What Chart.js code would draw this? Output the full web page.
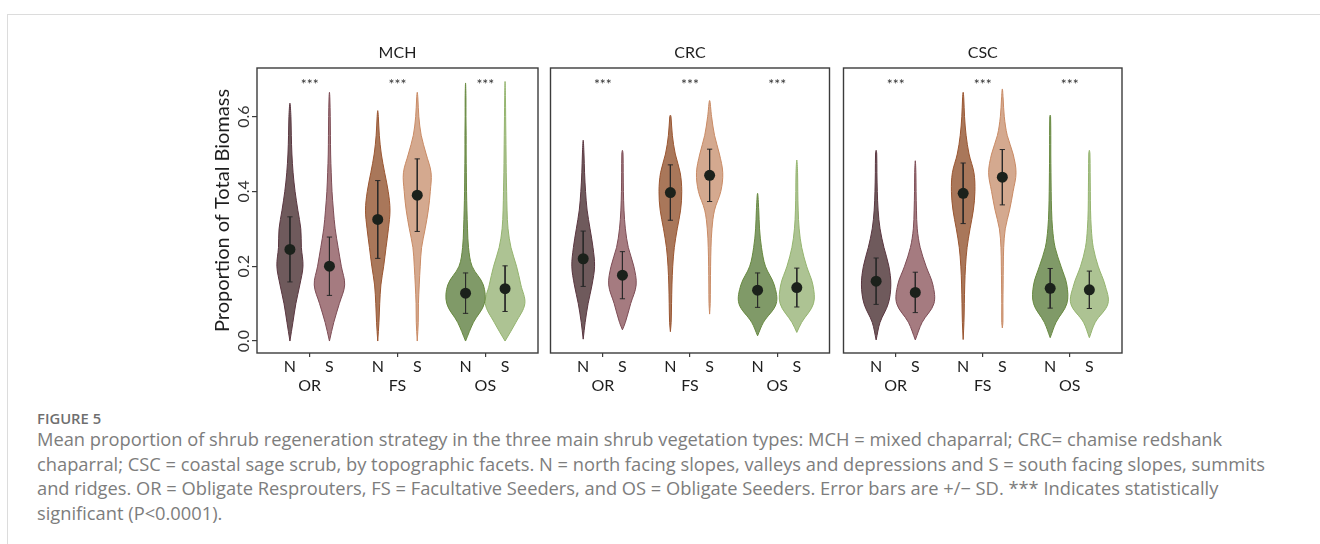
<!DOCTYPE html>
<html>
<head>
<meta charset="utf-8">
<script src="https://cdn.jsdelivr.net/npm/chart.js@4.4.0/dist/chart.umd.min.js"></script>
<style>
  html, body { margin: 0; padding: 0; background: #fff; }
  body { width: 1320px; height: 544px; position: relative; overflow: hidden; }
  .card { position: absolute; left: 7px; top: 14px; width: 1330px; height: 560px;
          border-left: 1px solid #dcdcdc; border-top: 1px solid #dcdcdc; }
  canvas { position: absolute; }
  #mch { left: 200px; top: 40px; }
  #crc { left: 545px; top: 40px; }
  #csc { left: 838px; top: 40px; }
  .fig { position: absolute; left: 37px; top: 408px; font: 600 14.8px 'Open Sans'; color: #6f6f6f; }
  .cap { position: absolute; left: 37px; top: 427px; font: 18.3px 'Open Sans'; line-height: 24.7px;
         color: #7d7d7d; white-space: nowrap; }
</style>
</head>
<body>
<div class="card"></div>
<canvas id="mch" width="345" height="360"></canvas>
<canvas id="crc" width="290" height="360"></canvas>
<canvas id="csc" width="290" height="360"></canvas>
<div class="fig">FIGURE 5</div>
<div class="cap">Mean proportion of shrub regeneration strategy in the three main shrub vegetation types: MCH = mixed chaparral; CRC= chamise redshank<br>chaparral; CSC = coastal sage scrub, by topographic facets. N = north facing slopes, valleys and depressions and S = south facing slopes, summits<br>and ridges. OR = Obligate Resprouters, FS = Facultative Seeders, and OS = Obligate Seeders. Error bars are +/&minus; SD. *** Indicates statistically<br>significant (P&lt;0.0001).</div>
<script>
// categories
const strategies = ['OR', 'FS', 'OS'];
const facets = ['N', 'S'];
const yTicks = [0, 0.2, 0.4, 0.6];
const densityLevels = [0, 0.05, 0.1, 0.15, 0.2, 0.25, 0.3, 0.35, 0.4, 0.45, 0.5, 0.55, 0.6, 0.65, 0.7];

// every list below is ordered OR-N, OR-S, FS-N, FS-S, OS-N, OS-S
// MCH
const mchMean = [0.245, 0.200, 0.325, 0.390, 0.128, 0.140];
const mchSd   = [0.087, 0.078, 0.104, 0.097, 0.054, 0.061];
const mchMin  = [0.0, 0.0, 0.0, 0.0, 0.0, 0.0];
const mchMax  = [0.636, 0.665, 0.616, 0.665, 0.690, 0.694];
const mchDensity = [
  [0, 0.15, 0.30, 0.50, 0.66, 0.58, 0.55, 0.40, 0.26, 0.16, 0.10, 0.07, 0.05, 0, 0],
  [0, 0.22, 0.50, 0.77, 0.60, 0.44, 0.29, 0.20, 0.13, 0.09, 0.06, 0.05, 0.04, 0.02, 0],
  [0, 0.06, 0.10, 0.16, 0.30, 0.42, 0.54, 0.62, 0.53, 0.35, 0.18, 0.08, 0.03, 0, 0],
  [0, 0.05, 0.06, 0.10, 0.15, 0.22, 0.40, 0.56, 0.66, 0.70, 0.45, 0.20, 0.08, 0.03, 0],
  [0, 0.40, 0.95, 0.90, 0.33, 0.15, 0.10, 0.07, 0.05, 0.04, 0.03, 0.03, 0.02, 0.02, 0],
  [0, 0.55, 1.00, 0.80, 0.58, 0.30, 0.15, 0.10, 0.08, 0.06, 0.05, 0.04, 0.03, 0.02, 0]
];

// CRC
const crcMean = [0.220, 0.176, 0.397, 0.443, 0.136, 0.143];
const crcSd   = [0.074, 0.063, 0.074, 0.070, 0.046, 0.052];
const crcMin  = [0.005, 0.030, 0.025, 0.072, 0.014, 0.023];
const crcMax  = [0.537, 0.510, 0.604, 0.643, 0.395, 0.484];
const crcDensity = [
  [0, 0.10, 0.25, 0.45, 0.58, 0.50, 0.35, 0.20, 0.12, 0.07, 0.04, 0, 0, 0, 0],
  [0, 0.15, 0.42, 0.70, 0.58, 0.30, 0.15, 0.08, 0.05, 0.04, 0.03, 0, 0, 0, 0],
  [0, 0.04, 0.06, 0.08, 0.12, 0.20, 0.35, 0.52, 0.58, 0.50, 0.25, 0.10, 0.03, 0, 0],
  [0, 0, 0.03, 0.04, 0.05, 0.07, 0.12, 0.25, 0.57, 0.67, 0.50, 0.25, 0.10, 0, 0],
  [0, 0.30, 0.95, 0.85, 0.40, 0.20, 0.10, 0.06, 0, 0, 0, 0, 0, 0, 0],
  [0, 0.25, 0.85, 0.82, 0.50, 0.25, 0.12, 0.07, 0.05, 0.04, 0, 0, 0, 0, 0]
];

// CSC
const cscMean = [0.160, 0.130, 0.395, 0.438, 0.141, 0.137];
const cscSd   = [0.062, 0.054, 0.081, 0.074, 0.053, 0.050];
const cscMin  = [0.003, 0.003, 0.004, 0.035, 0.009, 0.009];
const cscMax  = [0.510, 0.482, 0.665, 0.674, 0.604, 0.510];
const cscDensity = [
  [0, 0.20, 0.62, 0.75, 0.65, 0.40, 0.20, 0.10, 0.06, 0.04, 0.03, 0, 0, 0, 0],
  [0, 0.35, 0.95, 0.90, 0.55, 0.25, 0.10, 0.06, 0.04, 0.03, 0, 0, 0, 0, 0],
  [0, 0.04, 0.06, 0.08, 0.12, 0.20, 0.35, 0.52, 0.60, 0.55, 0.30, 0.15, 0.07, 0.03, 0],
  [0, 0.03, 0.03, 0.04, 0.05, 0.07, 0.15, 0.37, 0.55, 0.70, 0.55, 0.25, 0.10, 0.04, 0],
  [0, 0.30, 0.85, 0.85, 0.55, 0.25, 0.12, 0.07, 0.05, 0.04, 0.03, 0.03, 0.02, 0, 0],
  [0, 0.30, 0.95, 0.80, 0.45, 0.20, 0.10, 0.06, 0.05, 0.04, 0.03, 0, 0, 0, 0]
];

// styles
const fillColors   = ['#6f5a5c', '#a57b80', '#a9775a', '#d4a98f', '#809a68', '#adc393'];
const borderColors = ['#5a3640', '#7d4c55', '#9a5530', '#c98a64', '#67893f', '#94b46e'];
const dodge = 0.225;       // N / S offset from the group centre
const violinHalf = 0.225;  // half width of a violin at density 1
const capHalf = 0.03;
const frameColor = '#3c3c3c';
const textColor = '#1e1e1e';

// tick positions on the x axis: N, group, S for each strategy
const xTickPos = [];
const xTickLabels = [];
strategies.forEach((s, g) => {
  xTickPos.push(g + 1 - dodge, g + 1, g + 1 + dodge);
  xTickLabels.push(facets[0], ['', s], facets[1]);
});

function centreOf(i) {
  const g = Math.floor(i / 2) + 1;
  return i % 2 === 0 ? g - dodge : g + dodge;
}

function violinPoints(cx, lo, hi, dens) {
  const right = [], left = [];
  densityLevels.forEach((lv, k) => {
    if (lv > lo && lv < hi) {
      right.push({x: cx + dens[k] * violinHalf, y: lv});
      left.unshift({x: cx - dens[k] * violinHalf, y: lv});
    }
  });
  return [{x: cx, y: lo}, ...right, {x: cx, y: hi}, ...left, {x: cx, y: lo}];
}

function errorBarPoints(means, sds) {
  const pts = [];
  means.forEach((m, i) => {
    const cx = centreOf(i), lo = m - sds[i], hi = m + sds[i];
    pts.push({x: cx - capHalf, y: hi}, {x: cx + capHalf, y: hi}, {x: cx, y: null},
             {x: cx, y: hi}, {x: cx, y: lo}, {x: cx, y: null},
             {x: cx - capHalf, y: lo}, {x: cx + capHalf, y: lo}, {x: cx, y: null});
  });
  return pts;
}

// frame, strip title, significance stars and rotated y labels
const panelDeco = {
  id: 'panelDeco',
  afterDraw(chart, args, opts) {
    const {ctx, chartArea: a, scales} = chart;
    ctx.save();
    ctx.strokeStyle = frameColor;
    ctx.lineWidth = 1.4;
    ctx.strokeRect(a.left, a.top, a.right - a.left, a.bottom - a.top);

    ctx.fillStyle = textColor;
    ctx.textAlign = 'center';
    ctx.textBaseline = 'middle';
    ctx.font = '16px Lato';
    ctx.fillText(opts.title, (a.left + a.right) / 2, a.top - 15);

    ctx.font = '14px Lato';
    ctx.fillStyle = '#333';
    strategies.forEach((s, g) => {
      ctx.fillText('***', scales.x.getPixelForValue(g + 1), a.top + 16);
    });

    if (opts.yLabels) {
      ctx.font = '16px Lato';
      ctx.fillStyle = '#333';
      yTicks.forEach(v => {
        ctx.save();
        ctx.translate(a.left - 13, scales.y.getPixelForValue(v));
        ctx.rotate(-Math.PI / 2);
        ctx.fillText(v.toFixed(1), 0, 0);
        ctx.restore();
      });
    }
    ctx.restore();
  }
};

function makePanel(id, title, means, sds, mins, maxs, density, showY, padding) {
  const datasets = [];
  datasets.push({
    data: means.map((m, i) => ({x: centreOf(i), y: m})),
    showLine: false,
    pointRadius: 5.5,
    pointBackgroundColor: '#1b211b',
    pointBorderWidth: 0,
    order: 0
  });
  datasets.push({
    data: errorBarPoints(means, sds),
    showLine: true,
    spanGaps: false,
    pointRadius: 0,
    borderColor: '#2a2a2a',
    borderWidth: 1,
    order: 1
  });
  density.forEach((d, i) => {
    datasets.push({
      data: violinPoints(centreOf(i), mins[i], maxs[i], d),
      showLine: true,
      fill: 'shape',
      tension: 0.35,
      pointRadius: 0,
      backgroundColor: fillColors[i],
      borderColor: borderColors[i],
      borderWidth: 1,
      order: 2
    });
  });

  return new Chart(document.getElementById(id), {
    type: 'scatter',
    data: {datasets},
    plugins: [panelDeco],
    options: {
      responsive: false,
      animation: false,
      events: [],
      layout: {padding},
      plugins: {
        legend: {display: false},
        tooltip: {enabled: false},
        panelDeco: {title, yLabels: showY}
      },
      scales: {
        x: {
          type: 'linear',
          min: 0.4,
          max: 3.6,
          afterBuildTicks: s => { s.ticks = xTickPos.map(v => ({value: v})); },
          afterFit: s => { s.height = 47; },
          border: {display: false},
          grid: {
            drawOnChartArea: false,
            tickLength: 4,
            lineWidth: 1.2,
            color: c => (c.tick && Number.isInteger(c.tick.value)) ? frameColor : 'rgba(0,0,0,0)'
          },
          ticks: {
            autoSkip: false,
            maxRotation: 0,
            minRotation: 0,
            padding: 0,
            color: textColor,
            font: {family: 'Lato', size: 16},
            callback: (v, i) => xTickLabels[i]
          }
        },
        y: {
          type: 'linear',
          min: -0.032,
          max: 0.73,
          display: showY,
          afterBuildTicks: s => { s.ticks = yTicks.map(v => ({value: v})); },
          afterFit: s => { if (showY) s.width = 57; },
          border: {display: false},
          grid: {drawOnChartArea: false, tickLength: 5, lineWidth: 1.2, color: frameColor},
          ticks: {display: false},
          title: {
            display: true,
            text: 'Proportion of Total Biomass',
            color: textColor,
            font: {family: 'Lato', size: 20},
            padding: {top: 11, bottom: 0}
          }
        }
      }
    }
  });
}

const mchChart = makePanel('mch', 'MCH', mchMean, mchSd, mchMin, mchMax, mchDensity, true,
  {left: 0, right: 7, top: 28, bottom: 0});
const crcChart = makePanel('crc', 'CRC', crcMean, crcSd, crcMin, crcMax, crcDensity, false,
  {left: 4, right: 5, top: 28, bottom: 0});
const cscChart = makePanel('csc', 'CSC', cscMean, cscSd, cscMin, cscMax, cscDensity, false,
  {left: 4, right: 6, top: 28, bottom: 0});
</script>
</body>
</html>
